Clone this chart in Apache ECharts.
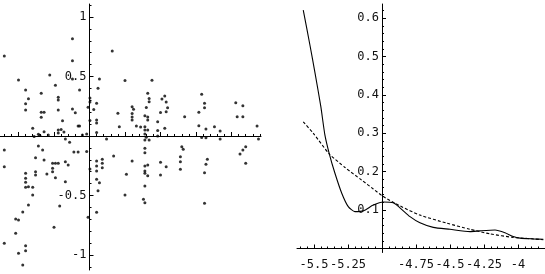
<!DOCTYPE html>
<html><head><meta charset="utf-8">
<script src="https://cdn.jsdelivr.net/npm/echarts@6/dist/echarts.min.js"></script>
<style>html,body{margin:0;padding:0;background:#fff}#c{width:545px;height:274px}</style>
</head><body><div id="c"></div>
<script>
// ---- left panel: scatter sample ----
const scatterX = [
-5.60,-5.12,-5.12,-5.50,-5.28,-5.24,-5.07,-5.45,-5.43,-5.34,
-5.45,-5.45,-5.22,-5.22,-5.22,-5.12,-5.10,-5.34,-5.32,-5.34,
-5.01,-5.19,-5.08,-5.07,-5.40,-5.22,-5.20,-5.18,-5.22,-5.32,
-5.36,-5.35,-5.39,-5.29,-5.05,-5.02,-4.84,-4.93,-4.94,-4.75,
-4.56,-4.997,-4.997,-4.95,-4.97,-4.997,-4.95,-4.95,-4.95,-4.80,
-4.79,-4.70,-4.69,-4.70,-4.70,-4.70,-4.67,-4.64,-4.59,-4.58,
-4.58,-4.60,-4.61,-4.59,-4.59,-4.61,-4.61,-4.59,-4.61,-4.49,
-4.47,-4.46,-4.45,-4.46,-4.50,-4.52,-4.52,-4.47,-4.33,-4.21,
-4.19,-4.19,-4.23,-4.23,-4.18,-4.12,-4.08,-3.97,-3.96,-3.92,
-3.92,-3.82,-4.60,-4.58,-4.61,-4.52,-4.21,-4.18,-4.08,-3.81,
-4.88,-5.17,-5.14,-5.60,-5.36,-5.33,-5.11,-5.08,-5.02,-5.60,
-5.38,-5.32,-5.17,-5.15,-5.26,-5.24,-5.22,-5.26,-5.26,-5.38,
-5.38,-5.45,-5.45,-5.45,-5.30,-5.24,-5.17,-5.45,-5.43,-5.40,
-5.40,-5.43,-5.21,-5.47,-5.52,-5.50,-5.25,-5.52,-5.60,-5.45,
-5.45,-5.50,-5.47,-5.01,-4.997,-4.95,-4.95,-4.95,-4.91,-4.91,
-4.91,-4.95,-4.93,-4.94,-4.95,-4.83,-4.74,-4.75,-4.70,-4.61,
-4.61,-4.61,-4.59,-4.61,-4.61,-4.59,-4.61,-4.62,-4.61,-4.50,
-4.46,-4.50,-4.36,-4.36,-4.36,-4.35,-4.34,-4.17,-4.18,-4.19,
-4.19,-3.90,-3.92,-3.94,-3.90,-5.12
];
const scatterY = [
0.672,0.818,0.633,0.471,0.513,0.426,0.387,0.387,0.313,0.359,
0.271,0.218,0.325,0.303,0.218,0.227,0.196,0.199,0.199,0.157,
0.241,0.129,0.084,0.084,0.065,0.050,0.055,0.034,0.025,0.036,
0.014,0.006,-0.004,0.008,0.008,0.017,0.714,0.479,0.401,0.466,
0.468,0.319,0.286,0.275,0.223,0.130,0.134,0.109,0.029,0.191,
0.078,0.246,0.224,0.189,0.160,0.134,0.084,0.076,0.359,0.315,
0.288,0.239,0.171,0.160,0.134,0.078,0.050,0.050,0.017,0.311,
0.336,0.286,0.238,0.204,0.197,0.120,0.046,0.065,0.162,0.350,
0.275,0.238,0.199,0.087,0.059,0.078,0.042,0.280,0.162,0.255,
0.162,0.084,-0.011,-0.034,-0.034,0.000,-0.013,-0.014,-0.025,-0.025,
-0.025,-0.025,-0.053,-0.118,-0.084,-0.118,-0.134,-0.134,-0.130,-0.258,
-0.182,-0.202,-0.216,-0.244,-0.229,-0.229,-0.229,-0.271,-0.300,-0.300,
-0.328,-0.313,-0.355,-0.389,-0.319,-0.350,-0.384,-0.431,-0.426,-0.431,
-0.496,-0.580,-0.588,-0.639,-0.697,-0.706,-0.767,-0.818,-0.902,-0.922,
-0.964,-0.986,-1.084,-0.683,-0.277,-0.210,-0.252,-0.294,-0.196,-0.229,
-0.266,-0.364,-0.392,-0.460,-0.641,-0.168,-0.322,-0.496,-0.210,-0.103,
-0.140,-0.252,-0.244,-0.294,-0.313,-0.334,-0.420,-0.532,-0.561,-0.221,
-0.258,-0.328,-0.174,-0.216,-0.280,-0.090,-0.112,-0.196,-0.238,-0.308,
-0.566,-0.090,-0.118,-0.151,-0.229,0.479
];
// ---- right panel: solid curve (density estimate) ----
const densityX = [-5.579,-5.529,-5.493,-5.450,-5.420,-5.387,-5.346,-5.296,-5.248,-5.199,-5.137,-5.064,-4.990,-4.917,-4.868,-4.794,-4.721,-4.623,-4.500,-4.353,-4.279,-4.169,-4.096,-4.035,-3.985,-3.888,-3.814];
const densityY = [0.621,0.528,0.458,0.370,0.296,0.246,0.196,0.144,0.109,0.096,0.098,0.113,0.121,0.119,0.106,0.083,0.067,0.055,0.050,0.044,0.046,0.048,0.041,0.031,0.027,0.025,0.024];
// ---- right panel: dashed curve (fitted) ----
const fitX = [-5.579,-5.505,-5.387,-5.272,-5.149,-5.064,-4.998,-4.868,-4.721,-4.524,-4.353,-4.206,-4.035,-3.814];
const fitY = [0.330,0.300,0.246,0.211,0.178,0.155,0.137,0.111,0.087,0.066,0.050,0.038,0.029,0.023];
// ---- tick labels ----
const leftXLabels = [-5.5,-5.25,-4.75,-4.5,-4.25,-4];
const leftYLabels = [-1,-0.5,0.5,1];
const rightXLabels = [-5.5,-5.25,-4.75,-4.5,-4.25,-4];
const rightYLabels = [0.1,0.2,0.3,0.4,0.5,0.6];
const xMajor = [-5.5,-5.25,-5,-4.75,-4.5,-4.25,-4];
const leftYMajor = [-1,-0.5,0,0.5,1];
const rightYMajor = [0,0.1,0.2,0.3,0.4,0.5,0.6];

function steps(a, b, step) { const out = []; for (let k = a; k <= b; k++) out.push(+(k*step).toFixed(3)); return out; }
const xMinor = steps(-112, -76, 0.05);
const leftYMinor = steps(-11, 11, 0.1);
const rightYMinor = steps(0, 31, 0.02);

const FONT = 'DejaVu Sans Mono';
const INK = '#000';
const LX = {min: -5.6303, max: -3.7923}, LY = {min: -1.1261, max: 1.1092};
const RX = {min: -5.625, max: -3.8015}, RY = {min: -0.0104, max: 0.6367};
const fmt = v => String(v);

function xAx(grid, r, main, labels, ticks, len) {
  return {type: 'value', gridIndex: grid, min: r.min, max: r.max, splitLine: {show: false},
    axisLine: {show: main, onZero: true, lineStyle: {color: INK, width: 1}},
    axisTick: {show: true, inside: true, length: len, customValues: ticks, lineStyle: {color: INK, width: 1}},
    axisLabel: main ? {show: true, customValues: labels, formatter: fmt, margin: 6, color: '#111', fontFamily: FONT, fontSize: 12} : {show: false}};
}
function yAx(grid, r, main, labels, ticks, len, off) {
  return {type: 'value', gridIndex: grid, min: r.min, max: r.max, offset: off, position: 'left', splitLine: {show: false},
    axisLine: {show: main, lineStyle: {color: INK, width: 1}},
    axisTick: {show: true, inside: true, length: len, customValues: ticks, lineStyle: {color: INK, width: 1}},
    axisLabel: main ? {show: true, customValues: labels, formatter: fmt, margin: 3, color: '#111', fontFamily: FONT, fontSize: 12} : {show: false}};
}
const gL = {left: 0, top: 4, width: 261, height: 266, outerBoundsMode: 'none', containLabel: false};
const gR = {left: 297, top: 4, width: 248, height: 248.5, outerBoundsMode: 'none', containLabel: false};

const chart = echarts.init(document.getElementById('c'), null, {renderer: 'canvas'});
chart.setOption({
  animation: false,
  backgroundColor: '#fff',
  textStyle: {fontFamily: FONT},
  grid: [gL, Object.assign({}, gL), gR, Object.assign({}, gR)],
  xAxis: [
    xAx(0, LX, true, leftXLabels, xMajor, 4),
    xAx(1, LX, false, null, xMinor, 2),
    xAx(2, RX, true, rightXLabels, xMajor, 4),
    xAx(3, RX, false, null, xMinor, 2)
  ],
  yAxis: [
    yAx(0, LY, true, leftYLabels, leftYMajor, 4, -89.5),
    yAx(1, LY, false, null, leftYMinor, 2, -89.5),
    yAx(2, RY, true, rightYLabels, rightYMajor, 4, -85),
    yAx(3, RY, false, null, rightYMinor, 2, -85)
  ],
  series: [
    {type: 'scatter', xAxisIndex: 0, yAxisIndex: 0, symbol: 'circle', symbolSize: 3,
      itemStyle: {color: '#000'}, data: scatterX.map((x, i) => [x, scatterY[i]])},
    {type: 'line', xAxisIndex: 2, yAxisIndex: 2, showSymbol: false, smooth: 0.2,
      lineStyle: {color: '#000', width: 1.1}, data: densityX.map((x, i) => [x, densityY[i]])},
    {type: 'line', xAxisIndex: 2, yAxisIndex: 2, showSymbol: false, smooth: 0.2,
      lineStyle: {color: '#000', width: 1.1, type: [3, 2]}, data: fitX.map((x, i) => [x, fitY[i]])}
  ]
});
</script></body></html>
